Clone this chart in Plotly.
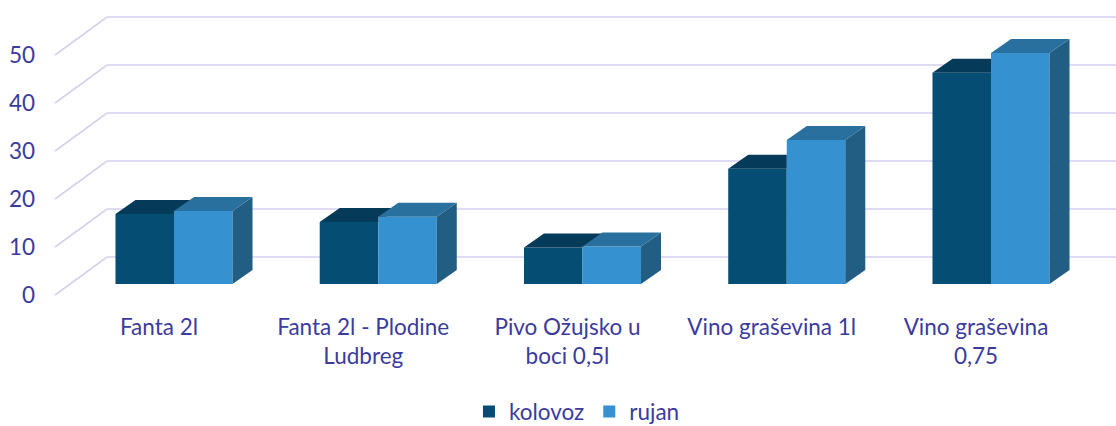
import plotly.graph_objects as go

categories = ["Fanta 2l", "Fanta 2l - Plodine<br>Ludbreg", "Pivo Ožujsko u<br>boci 0,5l",
              "Vino graševina 1l", "Vino graševina<br>0,75"]
series_names = ["kolovoz", "rujan"]
kolovoz = [14.6, 12.9, 7.6, 24.0, 44.0]
rujan = [15.2, 14.0, 7.8, 30.0, 48.1]
y_ticks = [0, 10, 20, 30, 40, 50]

front_colors = ["#064D74", "#3591CF"]
top_colors = ["#053A58", "#2A709E"]
side_colors = ["#043553", "#225E84"]
grid_color = "#D4D0EE"
text_color = "#3B3B9E"
FONT = "Lato"
FS = 22.5

# geometry (axis units)
PX_X = 204.25          # pixels per category
PX_Y = 4.8             # pixels per value unit
L, R, T, B = 38, 0, 0, 121
W, H = 1116, 426
x_range = [(L - 174) / PX_X, (W - R - 174) / PX_X]
y_range = [(284 - (H - B)) / PX_Y, (284 - T) / PX_Y]
bargap = 0.427
bw = (1 - bargap) / 2
ddx = 20 / PX_X        # bar depth in x
ddy = 14 / PX_Y        # bar depth in y
front_off = -11 / PX_Y  # front floor plane offset
back_off = 27 / PX_Y    # back wall offset
x_front = (55 - 174) / PX_X
x_back = (107 - 174) / PX_X
label_shift = -15 / PX_X

fig = go.Figure()

# gridlines (floor slant + back wall) as below-layer shapes
shapes = []
for v in y_ticks:
    path = "M {},{} L {},{} L {},{}".format(x_front, v + front_off, x_back, v + back_off,
                                            x_range[1], v + back_off)
    shapes.append(dict(type="path", path=path, xref="x", yref="y", layer="below",
                       line=dict(color=grid_color, width=1.6)))

xs = list(range(len(categories)))
data = [kolovoz, rujan]

# front faces as bars
for s, vals in enumerate(data):
    fig.add_trace(go.Bar(x=xs, y=vals, name=series_names[s],
                         marker=dict(color=front_colors[s], line=dict(width=0))))

# top and side faces
for i in xs:
    hk, hr = kolovoz[i], rujan[i]
    x0, x1, x2 = i - bw, i, i + bw
    # kolovoz side, only where it rises above the rujan front
    if hr < hk:
        xsf = [x1, x1 + ddx, x1 + ddx, x1, x1]
        ysf = [hr, hr + ddy, hk + ddy, hk, hr]
        fig.add_trace(go.Scatter(x=xsf, y=ysf, fill="toself", mode="none",
                                 fillcolor=side_colors[0], hoverinfo="skip", showlegend=False))
    # kolovoz top, minus rujan front rectangle
    hc = min(max(hr, hk), hk + ddy)
    tx = [x0, x1, x1, x1 + (hc - hk) / ddy * ddx, x1 + ddx, x0 + ddx, x0]
    ty = [hk, hk, hc, hc, hk + ddy, hk + ddy, hk]
    fig.add_trace(go.Scatter(x=tx, y=ty, fill="toself", mode="none", fillcolor=top_colors[0],
                             hoverinfo="skip", showlegend=False))
    # rujan side
    fig.add_trace(go.Scatter(x=[x2, x2 + ddx, x2 + ddx, x2, x2], y=[0, ddy, hr + ddy, hr, 0],
                             fill="toself", mode="none", fillcolor=side_colors[1],
                             hoverinfo="skip", showlegend=False))
    # rujan top
    fig.add_trace(go.Scatter(x=[x1, x2, x2 + ddx, x1 + ddx, x1], y=[hr, hr, hr + ddy, hr + ddy, hr],
                             fill="toself", mode="none", fillcolor=top_colors[1],
                             hoverinfo="skip", showlegend=False))

# y axis labels on the front plane via overlaying axis
fig.add_trace(go.Scatter(x=[None], y=[None], yaxis="y2", showlegend=False, hoverinfo="skip"))

fig.update_layout(
    width=W, height=H,
    margin=dict(l=L, r=R, t=T, b=B, autoexpand=False),
    paper_bgcolor="white", plot_bgcolor="white",
    barmode="group", bargap=bargap, bargroupgap=0,
    font=dict(family=FONT, size=FS, color=text_color),
    shapes=shapes,
    xaxis=dict(range=x_range, showgrid=False, zeroline=False, showline=False, automargin=False,
               tickmode="array", tickvals=[i + label_shift for i in xs], ticktext=categories,
               ticks="", ticklabelstandoff=6, tickfont=dict(size=FS, color=text_color)),
    yaxis=dict(range=y_range, showgrid=False, zeroline=False, showline=False, showticklabels=False,
               automargin=False),
    yaxis2=dict(range=[y_range[0] - front_off, y_range[1] - front_off], overlaying="y", side="left",
                showgrid=False, zeroline=False, showline=False, tickmode="array", tickvals=y_ticks,
                ticks="", ticklabelstandoff=2, automargin=False,
                tickfont=dict(size=FS, color=text_color)),
    legend=dict(orientation="h", xref="container", yref="container",
                x=0.517, xanchor="center", y=0.033, yanchor="middle",
                font=dict(size=FS, color=text_color), traceorder="normal"),
    showlegend=True,
)

fig.write_html("out.html", config={"displayModeBar": False},
               post_script="document.body.style.margin='0';document.body.style.overflow='hidden';")
